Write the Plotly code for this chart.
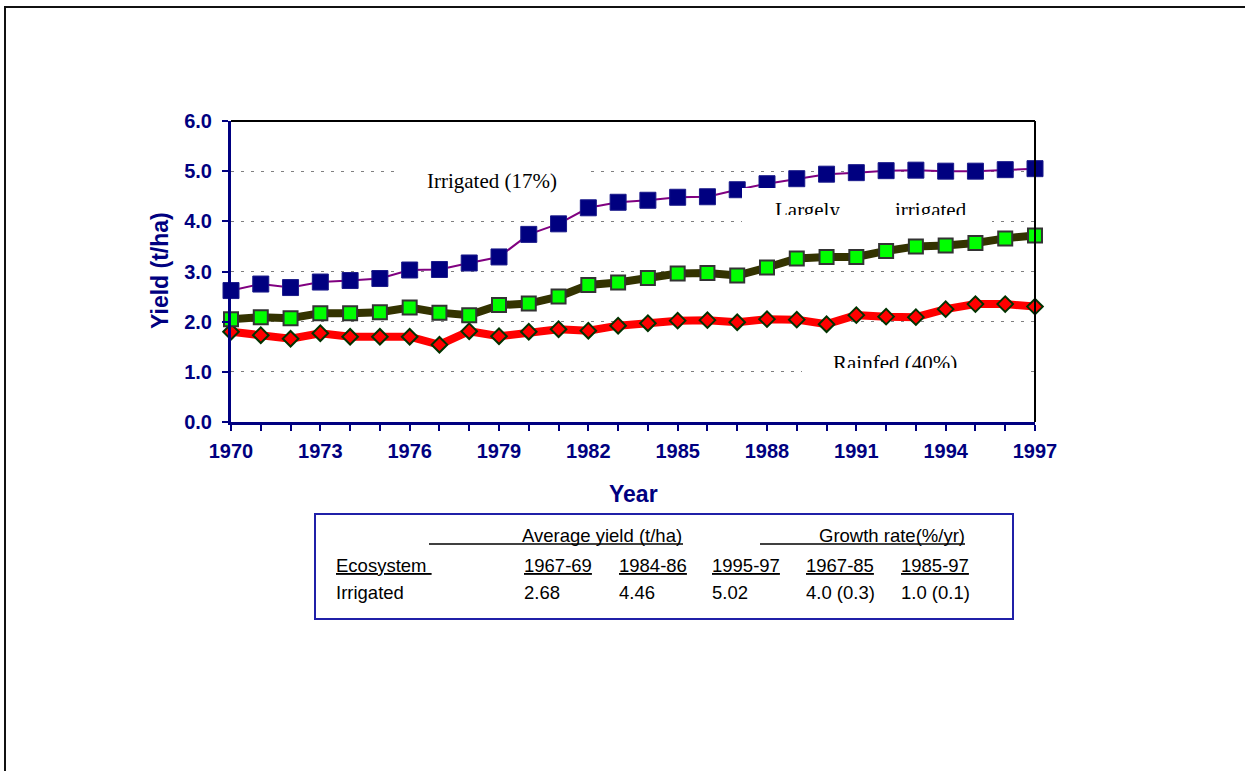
import plotly.graph_objects as go

# ---------------- data ----------------
years = list(range(1970, 1998))
irrigated = [2.62, 2.75, 2.68, 2.79, 2.82, 2.86, 3.03, 3.04, 3.17, 3.29, 3.74, 3.95, 4.27, 4.38,
             4.42, 4.48, 4.49, 4.63, 4.75, 4.85, 4.94, 4.97, 5.01, 5.02, 5.00, 5.00, 5.03, 5.05]
largely_irrigated = [2.05, 2.09, 2.07, 2.17, 2.17, 2.19, 2.28, 2.18, 2.13, 2.33, 2.36, 2.50, 2.73, 2.78,
                     2.87, 2.96, 2.97, 2.92, 3.08, 3.26, 3.29, 3.29, 3.41, 3.50, 3.52, 3.57, 3.66, 3.72]
rainfed = [1.80, 1.73, 1.66, 1.77, 1.70, 1.70, 1.70, 1.54, 1.81, 1.71, 1.80, 1.85, 1.82, 1.92,
           1.97, 2.02, 2.03, 1.99, 2.05, 2.04, 1.95, 2.13, 2.10, 2.09, 2.25, 2.35, 2.35, 2.30]

y_ticks = [0, 1, 2, 3, 4, 5, 6]
y_tick_labels = ["0.0", "1.0", "2.0", "3.0", "4.0", "5.0", "6.0"]

table_header_avg = "Average yield (t/ha)"
table_header_growth = "Growth rate(%/yr)"
table_columns = ["Ecosystem\u00a0", "1967-69", "1984-86", "1995-97", "1967-85", "1985-97"]
table_row = ["Irrigated", "2.68", "4.46", "5.02", "4.0 (0.3)", "1.0 (0.1)"]

# ---------------- layout helpers (pixel -> paper) ----------------
W, H = 1245, 771
L, R, T, B = 231, 1035, 121, 422


def px(x):
    return (x - L) / (R - L)


def py(y):
    return (B - y) / (B - T)


NAVY = "#000080"

fig = go.Figure()

fig.add_trace(go.Scatter(
    x=years, y=rainfed, mode="lines+markers", name="Rainfed",
    line=dict(color="#FF0000", width=8),
    marker=dict(symbol="diamond", size=12, color="#FF0000", line=dict(color="#003300", width=2)),
    cliponaxis=False,
))
fig.add_trace(go.Scatter(
    x=years, y=largely_irrigated, mode="lines+markers", name="Largely irrigated",
    line=dict(color="#333300", width=8),
    marker=dict(symbol="square", size=14, color="#00FF00", line=dict(color="#333333", width=2)),
    cliponaxis=False,
))
fig.add_trace(go.Scatter(
    x=years, y=irrigated, mode="lines+markers", name="Irrigated",
    line=dict(color="#800080", width=2),
    marker=dict(symbol="square", size=16, color=NAVY, line=dict(color="#1a1a8a", width=1)),
    cliponaxis=False,
))

shapes = []
# outer frame
shapes.append(dict(type="rect", xref="paper", yref="paper",
                   x0=px(5), x1=px(1260), y0=py(790), y1=py(7),
                   line=dict(color="#111111", width=2), layer="below"))
# top & right borders of plot area
shapes.append(dict(type="line", xref="paper", yref="paper", x0=0, x1=1, y0=1, y1=1,
                   line=dict(color="black", width=2)))
shapes.append(dict(type="line", xref="paper", yref="paper", x0=1, x1=1, y0=0, y1=1,
                   line=dict(color="black", width=2)))
# white label boxes hiding grid lines
shapes.append(dict(type="rect", xref="paper", yref="paper",
                   x0=px(742), x1=px(992), y0=py(225), y1=py(188),
                   fillcolor="white", line=dict(width=0), layer="above"))
shapes.append(dict(type="rect", xref="paper", yref="paper",
                   x0=px(802), x1=px(1029), y0=py(377), y1=py(350),
                   fillcolor="white", line=dict(width=0), layer="above"))
# table frame
shapes.append(dict(type="rect", xref="paper", yref="paper",
                   x0=px(315), x1=px(1013), y0=py(619), y1=py(514),
                   line=dict(color="#2020A8", width=2)))
# header underlines
shapes.append(dict(type="line", xref="paper", yref="paper",
                   x0=px(429), x1=px(683), y0=py(544), y1=py(544),
                   line=dict(color="black", width=1.5)))
shapes.append(dict(type="line", xref="paper", yref="paper",
                   x0=px(760), x1=px(965), y0=py(544), y1=py(544),
                   line=dict(color="black", width=1.5)))

annotations = []
serif = dict(family="Liberation Serif, Times New Roman, serif", size=21, color="black")
annotations.append(dict(text="Irrigated (17%)", xref="paper", yref="paper",
                        x=px(492), y=py(181), xanchor="center", yanchor="middle",
                        showarrow=False, font=serif, bgcolor="white", width=192, height=30))
for txt, xl in [("Largely", 775), ("irrigated", 895)]:
    annotations.append(dict(text=txt, xref="paper", yref="paper",
                            x=px(xl - 1), y=py(197), xanchor="left", yanchor="top",
                            showarrow=False, font=serif, valign="top", height=17, borderpad=0))
annotations.append(dict(text="Rainfed (40%)", xref="paper", yref="paper",
                        x=px(832), y=py(350), xanchor="left", yanchor="top",
                        showarrow=False, font=serif, valign="top", height=17, borderpad=0))

# axis titles
title_font = dict(family="Liberation Sans, Arial, sans-serif", size=23, color=NAVY, weight="bold")
annotations.append(dict(text="Year", xref="paper", yref="paper",
                        x=0.5, y=py(494), xanchor="center", yanchor="middle",
                        showarrow=False, font=title_font))
annotations.append(dict(text="Yield (t/ha)", xref="paper", yref="paper",
                        x=px(160), y=py(271), xanchor="center", yanchor="middle",
                        textangle=-90, showarrow=False, font=title_font))

sans = dict(family="Liberation Sans, Arial, sans-serif", size=18.5, color="black")
annotations.append(dict(text=table_header_avg, xref="paper", yref="paper",
                        x=px(684), y=py(535), xanchor="right", yanchor="middle",
                        showarrow=False, font=sans))
annotations.append(dict(text=table_header_growth, xref="paper", yref="paper",
                        x=px(967), y=py(535), xanchor="right", yanchor="middle",
                        showarrow=False, font=sans))
col_x = [336, 524, 619, 712, 806, 901]
for txt, xl in zip(table_columns, col_x):
    annotations.append(dict(text="<u>" + txt + "</u>", xref="paper", yref="paper",
                            x=px(xl - 2), y=py(565), xanchor="left", yanchor="middle",
                            showarrow=False, font=sans))
for txt, xl in zip(table_row, col_x):
    annotations.append(dict(text=txt, xref="paper", yref="paper",
                            x=px(xl - 2), y=py(592), xanchor="left", yanchor="middle",
                            showarrow=False, font=sans))

axis_font = dict(family="Liberation Sans, Arial, sans-serif", size=20, color=NAVY, weight="bold")

fig.update_layout(
    width=W, height=H, autosize=False,
    margin=dict(l=L, r=W - R, t=T, b=H - B, pad=0),
    paper_bgcolor="white", plot_bgcolor="white",
    showlegend=False,
    shapes=shapes, annotations=annotations,
    xaxis=dict(
        range=[1970, 1997], tick0=1970, dtick=3, tickmode="linear",
        ticks="outside", ticklen=6, tickwidth=2, tickcolor=NAVY,
        minor=dict(dtick=1, tick0=1970, ticks="outside", ticklen=6, tickwidth=2, tickcolor=NAVY, showgrid=False),
        showline=True, linecolor=NAVY, linewidth=3, showgrid=False, zeroline=False,
        tickfont=axis_font, ticklabelstandoff=3,
    ),
    yaxis=dict(
        range=[0, 6], tickmode="array", tickvals=y_ticks, ticktext=y_tick_labels,
        ticks="outside", ticklen=6, tickwidth=2, tickcolor=NAVY,
        showline=True, linecolor=NAVY, linewidth=3, zeroline=False,
        showgrid=True, gridcolor="#808080", gridwidth=1, griddash="3px,7px",
        tickfont=axis_font, ticklabelstandoff=6,
    ),
)

fig.write_html("out.html", config={"displayModeBar": False},
               post_script="document.body.style.margin='0px';")
